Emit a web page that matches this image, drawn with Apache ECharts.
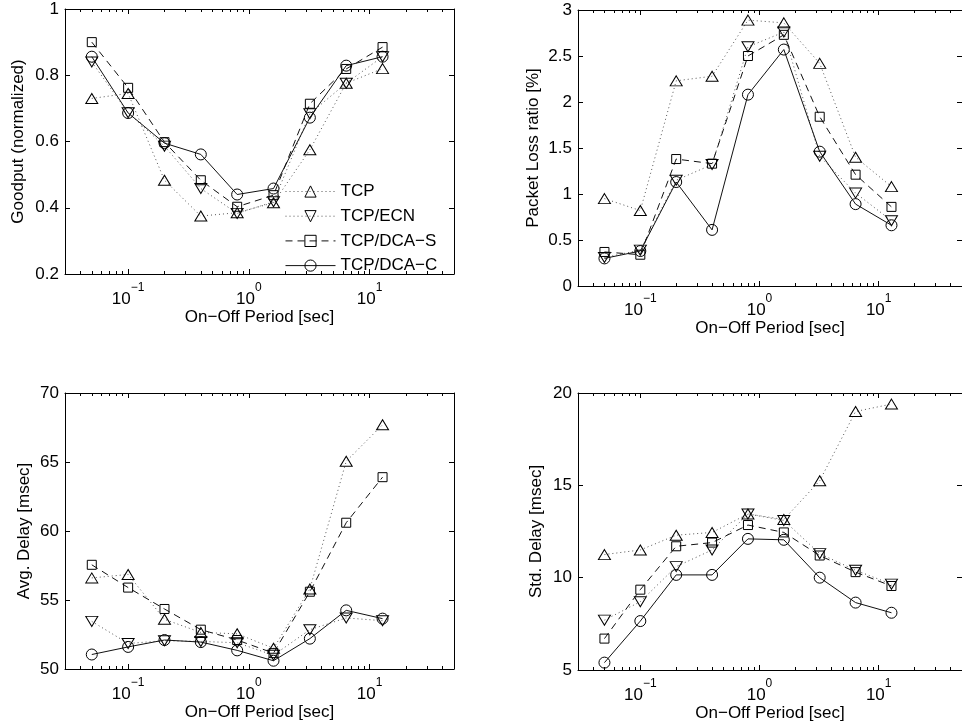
<!DOCTYPE html>
<html>
<head>
<meta charset="utf-8">
<script src="https://cdn.jsdelivr.net/npm/echarts@6/dist/echarts.min.js"></script>
<style>
  html, body { margin: 0; padding: 0; background: #fff; }
  #chart { width: 962px; height: 727px; }
</style>
</head>
<body>
<div id="chart"></div>
<script>
// On-off period of the background traffic [sec]
const periods = [0.05, 0.1, 0.2, 0.4, 0.8, 1.6, 3.2, 6.4, 12.8];
const seriesNames = ['TCP', 'TCP/ECN', 'TCP/DCA\u2212S', 'TCP/DCA\u2212C'];

// Goodput (normalized)
const goodputTCP  = [0.73, 0.745, 0.483, 0.375, 0.385, 0.415, 0.575, 0.776, 0.82];
const goodputECN  = [0.84, 0.687, 0.586, 0.458, 0.383, 0.418, 0.684, 0.776, 0.856];
const goodputDCAS = [0.90, 0.762, 0.598, 0.483, 0.403, 0.438, 0.714, 0.819, 0.885];
const goodputDCAC = [0.856, 0.686, 0.595, 0.561, 0.44, 0.458, 0.672, 0.829, 0.856];

// Packet loss ratio [%]
const lossTCP  = [0.95, 0.82, 2.23, 2.28, 2.89, 2.86, 2.42, 1.40, 1.08];
const lossECN  = [0.31, 0.39, 1.15, 1.32, 2.60, 2.76, 1.41, 1.01, 0.71];
const lossDCAS = [0.37, 0.34, 1.38, 1.33, 2.50, 2.73, 1.84, 1.21, 0.86];
const lossDCAC = [0.30, 0.38, 1.13, 0.61, 2.08, 2.57, 1.46, 0.89, 0.66];

// Average delay [msec]
const avgTCP  = [56.6, 56.85, 53.6, 52.65, 52.55, 51.5, 55.8, 65.05, 67.7];
const avgECN  = [53.45, 51.85, 52.05, 52.0, 51.9, 51.0, 52.85, 53.7, 53.5];
const avgDCAS = [57.55, 55.9, 54.35, 52.85, 52.1, 51.15, 55.6, 60.6, 63.9];
const avgDCAC = [51.05, 51.6, 52.1, 51.95, 51.35, 50.6, 52.2, 54.25, 53.65];

// Standard deviation of delay [msec]
const stdTCP  = [11.25, 11.5, 12.3, 12.45, 13.45, 13.15, 15.25, 19.0, 19.4];
const stdECN  = [7.7, 8.7, 10.6, 11.5, 13.45, 13.1, 11.3, 10.4, 9.65];
const stdDCAS = [6.7, 9.35, 11.7, 11.9, 12.85, 12.45, 11.2, 10.3, 9.55];
const stdDCAC = [5.4, 7.65, 10.15, 10.15, 12.1, 12.05, 10.0, 8.65, 8.1];

// Log x-axis range and tick positions
const xRange = [0.03, 50];
const xMajorTicks = [0.1, 1, 10];
const xMinorTicks = [0.04, 0.05, 0.06, 0.07, 0.08, 0.09,
                     0.2, 0.3, 0.4, 0.5, 0.6, 0.7, 0.8, 0.9,
                     2, 3, 4, 5, 6, 7, 8, 9, 20, 30, 40];
const xTitle = 'On\u2212Off Period [sec]';

const FONT = '"Liberation Sans", Arial, Helvetica, sans-serif';

const panels = [
  { grid: { left: 65, top: 9, width: 389, height: 265 },
    y: { min: 0.2, max: 1, interval: 0.2 }, yName: 'Goodput (normalized)', yNameGap: 38,
    xNameGap: 31, labelMargin: 8,
    values: [goodputTCP, goodputECN, goodputDCAS, goodputDCAC] },
  { grid: { left: 578, top: 10, width: 390, height: 276 },
    y: { min: 0, max: 3, interval: 0.5 }, yName: 'Packet Loss ratio [%]', yNameGap: 36,
    xNameGap: 32, labelMargin: 7,
    values: [lossTCP, lossECN, lossDCAS, lossDCAC] },
  { grid: { left: 65, top: 393, width: 389, height: 276 },
    y: { min: 50, max: 70, interval: 5 }, yName: 'Avg. Delay [msec]', yNameGap: 32,
    xNameGap: 34, labelMargin: 8,
    values: [avgTCP, avgECN, avgDCAS, avgDCAC] },
  { grid: { left: 578, top: 393, width: 390, height: 277 },
    y: { min: 5, max: 20, interval: 5 }, yName: 'Std. Delay [msec]', yNameGap: 33,
    xNameGap: 32, labelMargin: 8,
    values: [stdTCP, stdECN, stdDCAS, stdDCAC] }
];

// Marker / line appearance for each protocol
const looks = [
  { symbol: 'triangle', symbolSize: [12, 10], line: { type: [1, 3], color: '#555', width: 1 } },
  { symbol: 'path://M0,0L12,0L6,10Z', symbolSize: [12, 10], line: { type: [1, 3], color: '#555', width: 1 } },
  { symbol: 'rect', symbolSize: 9, line: { type: [7, 5], color: '#111', width: 1 } },
  { symbol: 'circle', symbolSize: 11, line: { type: 'solid', color: '#111', width: 1 } }
];

const logMin = Math.log10(xRange[0]);
const logMax = Math.log10(xRange[1]);

function tickAxis(gi, position, ticks, len, extra) {
  return Object.assign({
    type: 'value', gridIndex: gi, position: position,
    min: logMin, max: logMax,
    axisLine: { show: false, onZero: false },
    splitLine: { show: false },
    axisTick: { show: true, inside: true, length: len,
                customValues: ticks.map(Math.log10),
                lineStyle: { color: '#000', width: 1 } },
    axisLabel: { show: false }
  }, extra || {});
}

const grids = [], xAxes = [], yAxes = [], series = [];

panels.forEach((p, gi) => {
  grids.push(Object.assign({ containLabel: false }, p.grid));

  // data axis: true logarithmic scale, not drawn
  xAxes.push({ type: 'log', logBase: 10, gridIndex: gi, min: xRange[0], max: xRange[1], show: false,
               axisLine: { onZero: false } });
  // bottom: major ticks, line, labels, title
  xAxes.push(tickAxis(gi, 'bottom', xMajorTicks, 5, {
    axisLine: { show: true, onZero: false, lineStyle: { color: '#000', width: 1 } },
    axisLabel: {
      show: true, margin: p.labelMargin,
      customValues: xMajorTicks.map(Math.log10),
      formatter: v => {
        const e = Math.round(v);
        return '{b|10}{s|' + (e < 0 ? '\u2212' + (-e) : e) + '}';
      },
      rich: {
        b: { fontFamily: FONT, fontSize: 17, color: '#000', lineHeight: 26, verticalAlign: 'bottom' },
        s: { fontFamily: FONT, fontSize: 12, color: '#000', lineHeight: 8, verticalAlign: 'top' }
      }
    },
    name: xTitle, nameLocation: 'middle', nameGap: p.xNameGap,
    nameTextStyle: { fontFamily: FONT, fontSize: 17, color: '#000' }
  }));
  // bottom: minor ticks
  xAxes.push(tickAxis(gi, 'bottom', xMinorTicks, 3));
  // top: box line with major ticks
  xAxes.push(tickAxis(gi, 'top', xMajorTicks, 5, {
    axisLine: { show: true, onZero: false, lineStyle: { color: '#000', width: 1 } }
  }));
  // top: minor ticks
  xAxes.push(tickAxis(gi, 'top', xMinorTicks, 3));

  // left y-axis with labels and title
  yAxes.push({
    type: 'value', gridIndex: gi, position: 'left',
    min: p.y.min, max: p.y.max, interval: p.y.interval,
    axisLine: { show: true, onZero: false, lineStyle: { color: '#000', width: 1 } },
    axisTick: { show: true, inside: true, length: 5, lineStyle: { color: '#000', width: 1 } },
    splitLine: { show: false },
    axisLabel: { show: true, margin: 6, fontFamily: FONT, fontSize: 17, color: '#000' },
    name: p.yName, nameLocation: 'middle', nameGap: p.yNameGap,
    nameTextStyle: { fontFamily: FONT, fontSize: 17, color: '#000' }
  });
  // right y-axis: box line with ticks
  yAxes.push({
    type: 'value', gridIndex: gi, position: 'right',
    min: p.y.min, max: p.y.max, interval: p.y.interval,
    axisLine: { show: true, onZero: false, lineStyle: { color: '#000', width: 1 } },
    axisTick: { show: true, inside: true, length: 5, lineStyle: { color: '#000', width: 1 } },
    splitLine: { show: false },
    axisLabel: { show: false }
  });

  p.values.forEach((vals, si) => {
    const lk = looks[si];
    series.push({
      type: 'line', name: seriesNames[si],
      xAxisIndex: gi * 5, yAxisIndex: gi * 2,
      data: periods.map((x, i) => [x, vals[i]]),
      symbol: lk.symbol, symbolSize: lk.symbolSize, showAllSymbol: true,
      itemStyle: { color: 'rgba(0,0,0,0)', borderColor: '#000', borderWidth: 1 },
      lineStyle: lk.line,
      emphasis: { disabled: true },
      z: 2 + si
    });
  });
});

const chart = echarts.init(document.getElementById('chart'), null, { renderer: 'canvas' });
chart.setOption({
  animation: false,
  backgroundColor: '#fff',
  grid: grids,
  xAxis: xAxes,
  yAxis: yAxes,
  legend: {
    data: seriesNames,
    orient: 'vertical',
    left: 285, top: 183,
    padding: 0,
    itemWidth: 50, itemHeight: 14, itemGap: 7.7,
    selectedMode: false,
    itemStyle: { borderWidth: 1, borderColor: '#000', color: 'rgba(0,0,0,0)' },
    lineStyle: { width: 1 },
    textStyle: { fontFamily: FONT, fontSize: 17, color: '#000' }
  },
  series: series
});
</script>
</body>
</html>
